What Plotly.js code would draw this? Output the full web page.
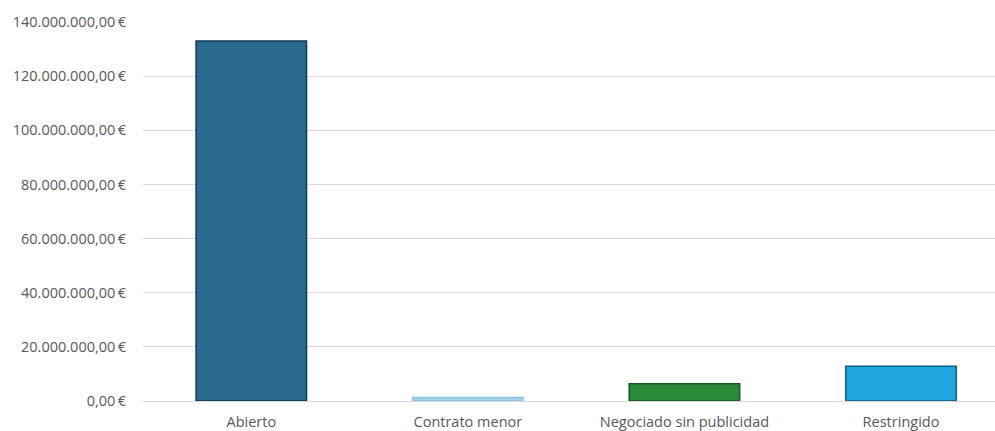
<!DOCTYPE html>
<html>
<head>
<meta charset="utf-8">
<script src="https://cdn.plot.ly/plotly-3.0.1.min.js"></script>
<style>html,body{margin:0;padding:0;background:#fff;}#chart{width:995px;height:431px;}</style>
</head>
<body>
<div id="chart"></div>
<script>
const categories = ["Abierto", "Contrato menor", "Negociado sin publicidad", "Restringido"];
const importes = [133000000, 1300000, 6400000, 12800000];
const barColors = ["#2a6a8f", "#a9d3ec", "#2a8a3a", "#1ea6de"];
const edgeColors = ["#123a52", "#8cc3e3", "#155a22", "#0c5f86"];
const yTicks = [0, 20000000, 40000000, 60000000, 80000000, 100000000, 120000000, 140000000];

function euro(v) {
  const parts = v.toFixed(2).split(".");
  const ent = parts[0].replace(/\B(?=(\d{3})+(?!\d))/g, ".");
  return ent + "," + parts[1] + "\u2009€";
}
const yTickText = yTicks.map(euro);

const trace = {
  type: "bar",
  x: categories,
  y: importes,
  width: 0.51,
  marker: {color: barColors, line: {color: edgeColors, width: 1.5}},
  hoverinfo: "x+y"
};

const layout = {
  width: 995, height: 431,
  margin: {l: 143, r: 0, t: 22, b: 30},
  paper_bgcolor: "#ffffff", plot_bgcolor: "#ffffff",
  showlegend: false,
  font: {family: "'Open Sans', sans-serif", size: 14, color: "#595959"},
  xaxis: {
    range: [-0.5, 3.434],
    showgrid: false, showline: false, zeroline: false,
    ticks: "", ticklabelstandoff: 10,
    tickfont: {family: "'Open Sans', sans-serif", size: 14.5, color: "#595959"}
  },
  yaxis: {
    range: [0, 140000000],
    tickmode: "array",
    tickvals: yTicks,
    ticktext: yTickText,
    showgrid: true, gridcolor: "#d9d9d9", gridwidth: 1,
    zeroline: true, zerolinecolor: "#d9d9d9", zerolinewidth: 1,
    showline: false, ticks: "", ticklabelstandoff: 16,
    tickfont: {family: "'Open Sans', sans-serif", size: 14.5, color: "#595959"}
  }
};

Plotly.newPlot("chart", [trace], layout, {displayModeBar: false, staticPlot: true});
</script>
</body>
</html>
